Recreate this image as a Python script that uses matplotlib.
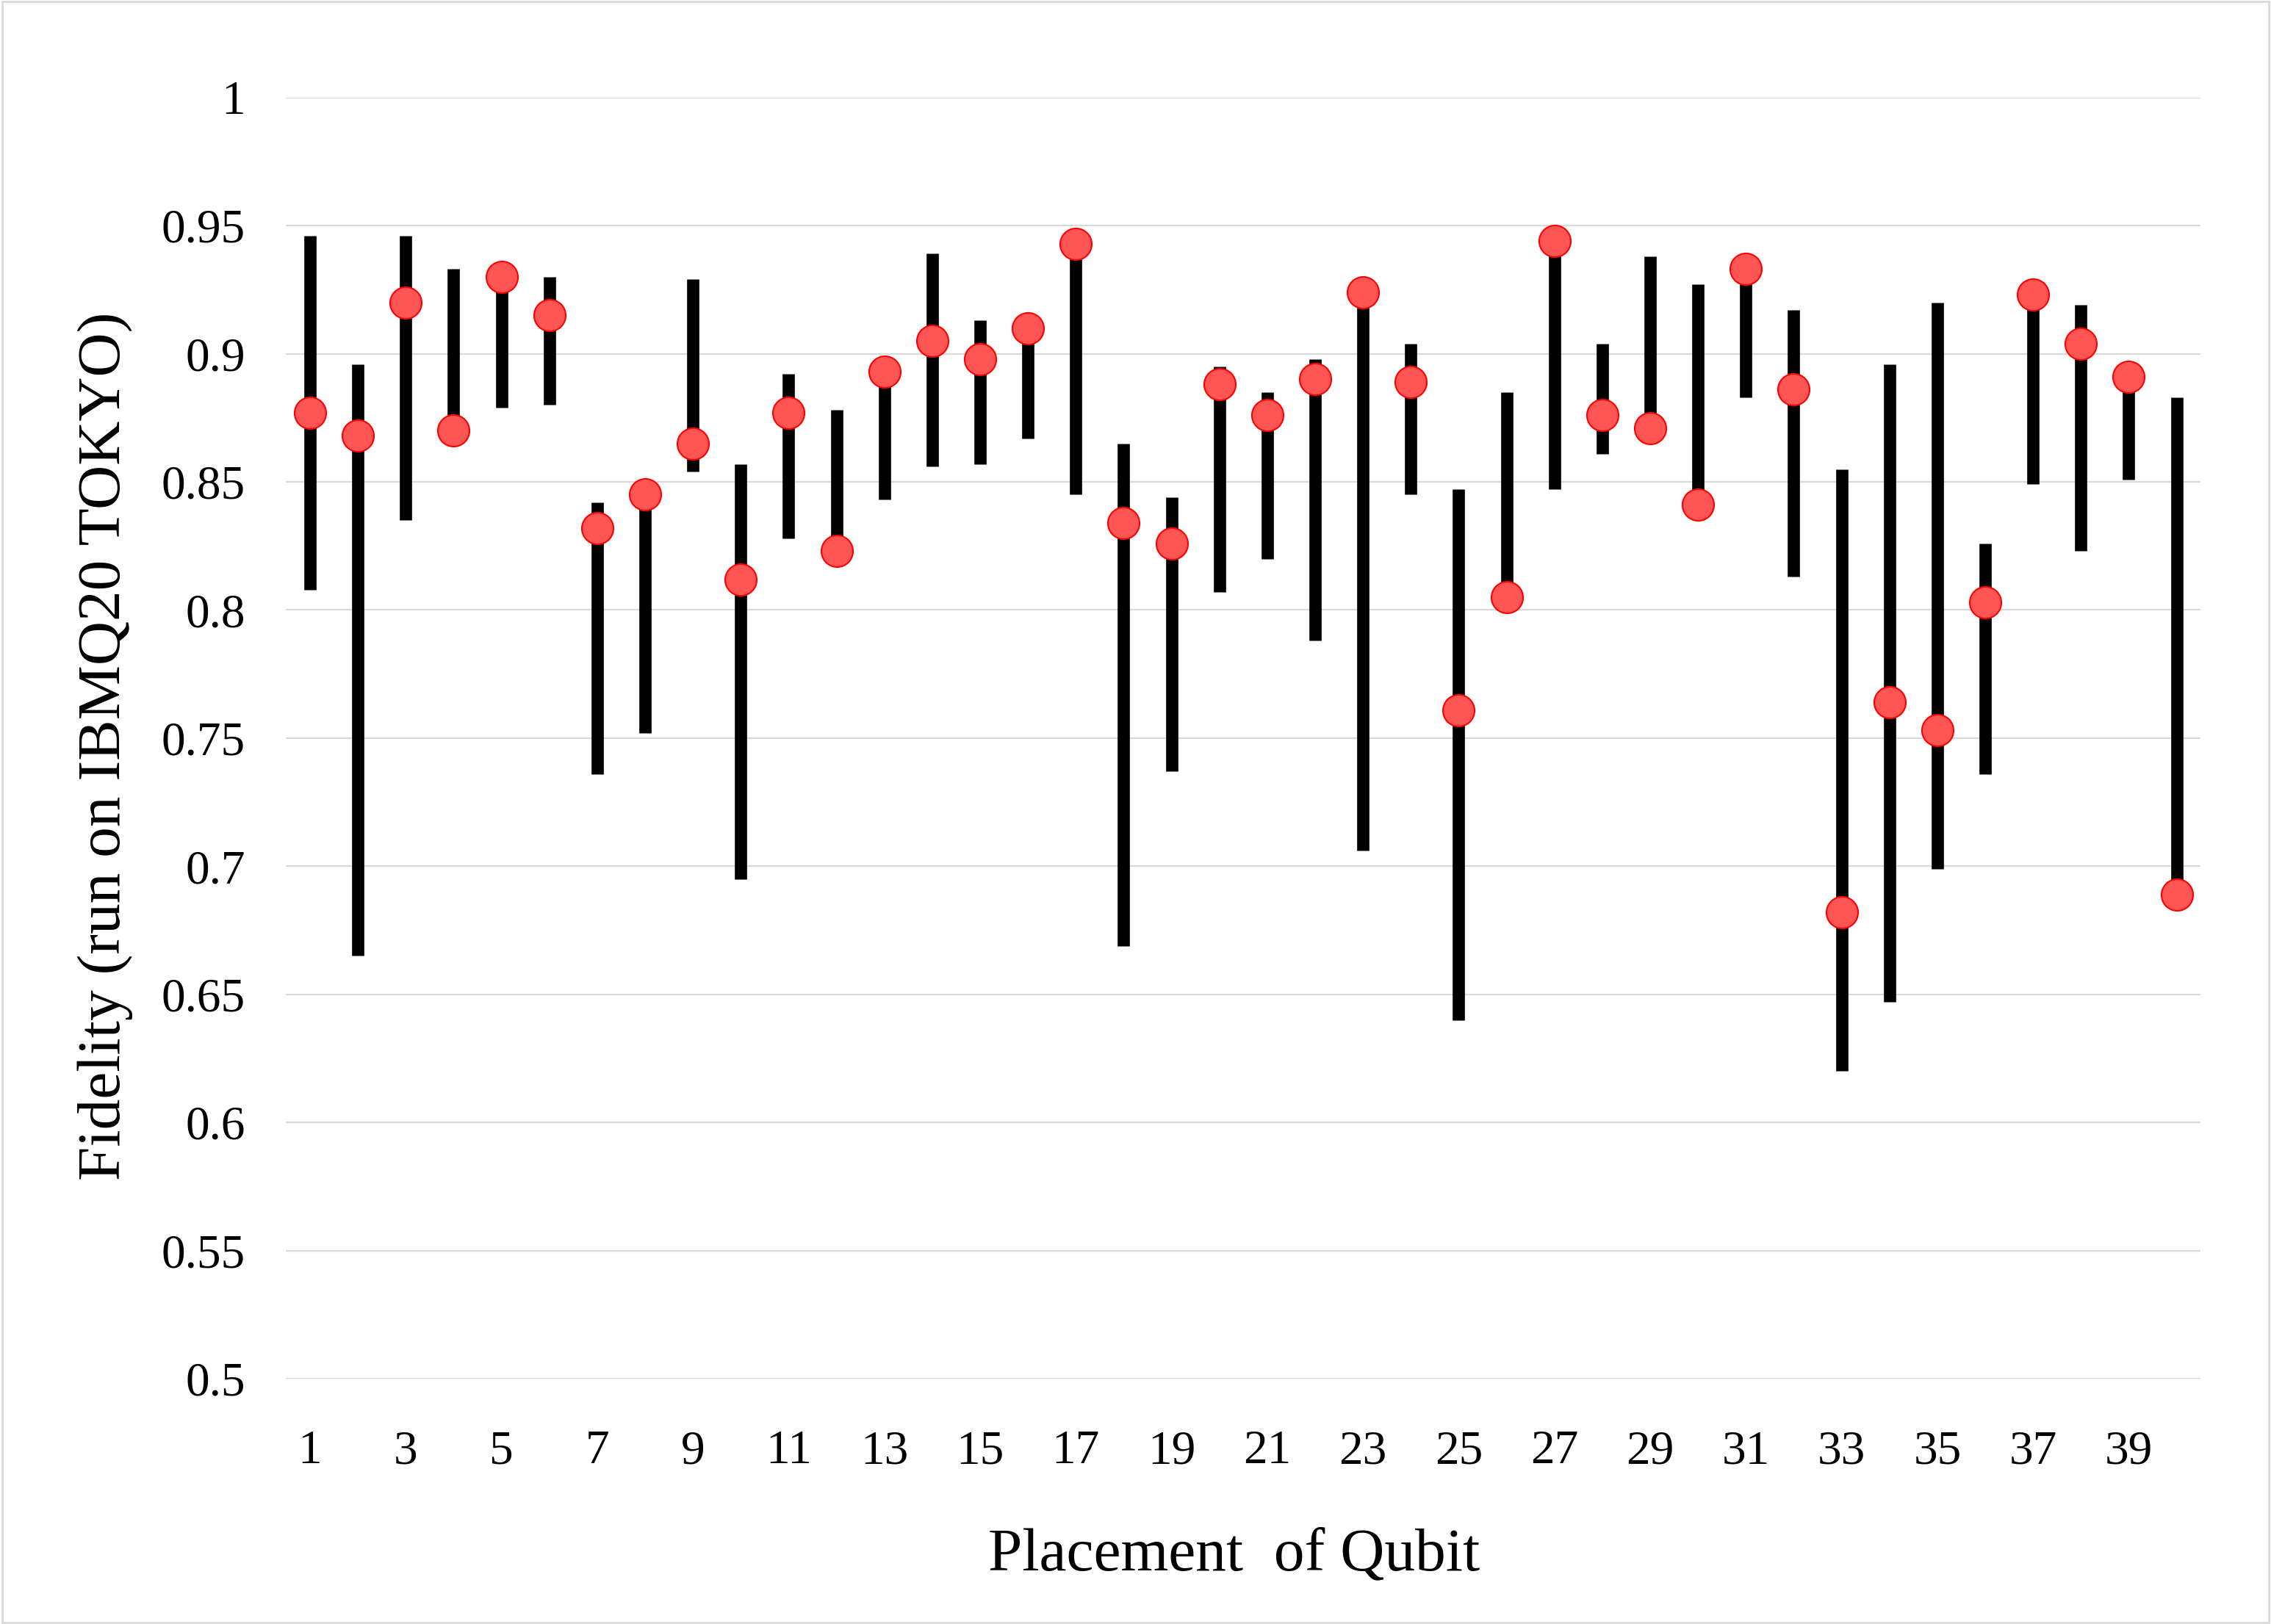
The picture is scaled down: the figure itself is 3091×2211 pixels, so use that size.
import matplotlib
matplotlib.use("Agg")
import matplotlib.pyplot as plt
from matplotlib.patches import Rectangle

# ==============================
#  Dados
# ==============================

placements = list(range(1, 41))

fidelity = [0.877, 0.868, 0.920, 0.870, 0.930, 0.915, 0.832, 0.845, 0.865, 0.812,
            0.877, 0.823, 0.893, 0.905, 0.898, 0.910, 0.943, 0.834, 0.826, 0.888,
            0.876, 0.890, 0.924, 0.889, 0.761, 0.805, 0.944, 0.876, 0.871, 0.841,
            0.933, 0.886, 0.682, 0.764, 0.753, 0.803, 0.923, 0.904, 0.891, 0.689]

high = [0.946, 0.896, 0.946, 0.933, 0.930, 0.930, 0.842, 0.845, 0.929, 0.857,
        0.892, 0.878, 0.893, 0.939, 0.913, 0.910, 0.943, 0.865, 0.844, 0.895,
        0.885, 0.898, 0.924, 0.904, 0.847, 0.885, 0.944, 0.904, 0.938, 0.927,
        0.933, 0.917, 0.855, 0.896, 0.920, 0.826, 0.923, 0.919, 0.891, 0.883]

low = [0.808, 0.665, 0.835, 0.870, 0.879, 0.880, 0.736, 0.752, 0.854, 0.695,
       0.828, 0.823, 0.843, 0.856, 0.857, 0.867, 0.845, 0.669, 0.737, 0.807,
       0.820, 0.788, 0.706, 0.845, 0.640, 0.805, 0.847, 0.861, 0.871, 0.841,
       0.883, 0.813, 0.620, 0.647, 0.699, 0.736, 0.849, 0.823, 0.851, 0.689]

y_ticks = [0.5, 0.55, 0.6, 0.65, 0.7, 0.75, 0.8, 0.85, 0.9, 0.95, 1.0]
y_ticklabels = ["0.5", "0.55", "0.6", "0.65", "0.7", "0.75", "0.8", "0.85", "0.9", "0.95", "1"]

# ==============================
#  Gráfico
# ==============================

plt.rcParams['font.family'] = ['Liberation Serif', 'DejaVu Serif']

fig = plt.figure(figsize=(30.91, 22.11), dpi=100)
ax = fig.add_axes([0.126, 0.151, 0.843, 0.789])

ax.vlines(placements, low, high, colors='black', linewidth=12, zorder=2)
ax.plot(placements, fidelity, linestyle='none', marker='o', markersize=31,
        markerfacecolor='#FF5555', markeredgecolor='#FF0000', markeredgewidth=1.5, zorder=3)

ax.set_xlim(0.5, 40.5)
ax.set_ylim(0.5, 1.0)
ax.set_yticks(y_ticks)
ax.set_yticklabels(y_ticklabels)
ax.set_xticks(placements[::2])
ax.set_xticklabels([str(p) for p in placements[::2]])

ax.grid(axis='y', color='#D9D9D9', linewidth=1.6, zorder=0)
ax.set_axisbelow(True)
for s in ax.spines.values():
    s.set_visible(False)
ax.tick_params(axis='both', length=0, labelsize=47)
ax.tick_params(axis='y', pad=40)
ax.tick_params(axis='x', pad=50)

ax.set_xlabel('Placement  of Qubit', fontsize=60)
ax.set_ylabel('Fidelity (run on IBMQ20 TOKYO)', fontsize=60)
ax.xaxis.set_label_coords(0.495, -0.116)
ax.yaxis.set_label_coords(-0.080, 0.494)

# borda do gráfico (estilo Excel)
fig.patches.append(Rectangle((0.001, 0.001), 0.998, 0.998, transform=fig.transFigure,
                             fill=False, edgecolor='#D9D9D9', linewidth=2))

fig.savefig('out.png', dpi=100)
